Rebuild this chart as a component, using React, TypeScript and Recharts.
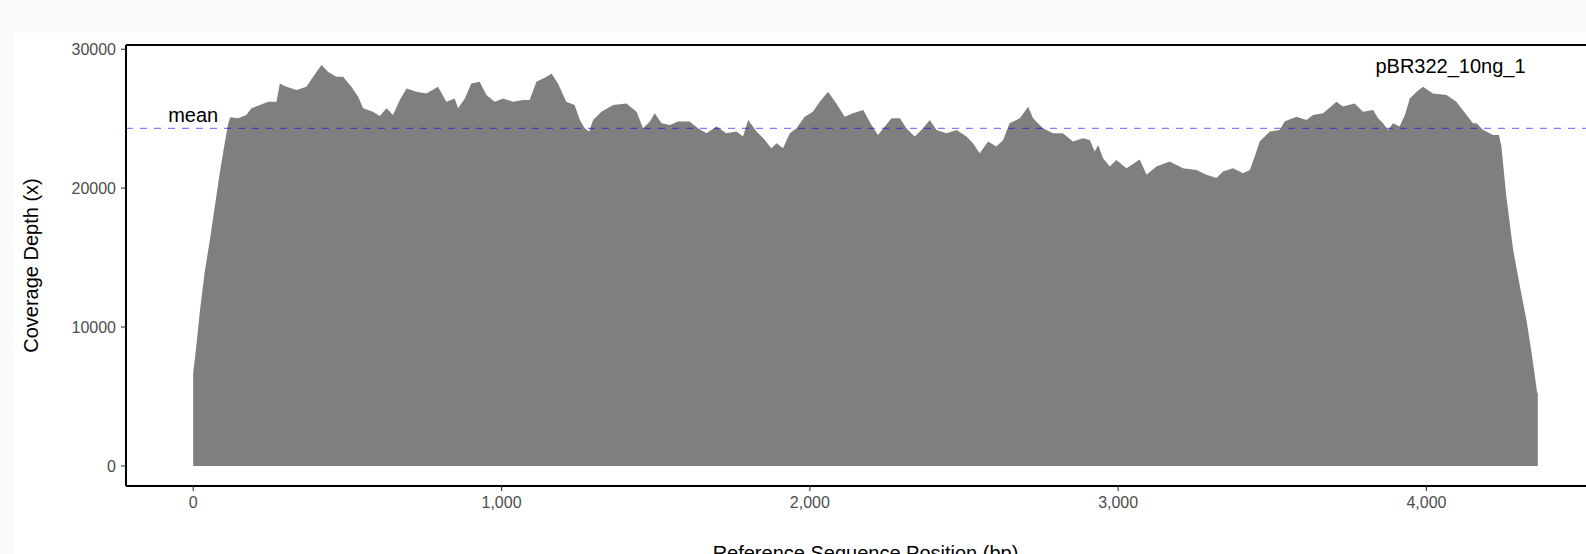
import React from 'react';
import {
  ComposedChart,
  Area,
  XAxis,
  YAxis,
  ReferenceLine,
  ReferenceDot,
} from 'recharts';

// Reference sequence positions (bp) and coverage depth
const positions = [
  0, 10, 21, 37, 54, 70, 86, 102, 113, 120, 145, 172, 189, 216, 243, 270, 281, 302, 335, 367,
  389, 416, 437, 464, 486, 513, 535, 551, 583, 605, 627, 648, 670, 692, 724, 756, 794, 821, 848, 859,
  881, 902, 929, 951, 978, 1005, 1037, 1070, 1091, 1113, 1146, 1162, 1183, 1210, 1237, 1254, 1270, 1284, 1297, 1324,
  1362, 1405, 1438, 1459, 1481, 1497, 1519, 1546, 1572, 1610, 1637, 1665, 1697, 1729, 1762, 1783, 1800, 1827, 1854, 1875,
  1892, 1913, 1935, 1957, 1983, 2010, 2032, 2059, 2086, 2113, 2140, 2173, 2200, 2221, 2243, 2265, 2292, 2313, 2340, 2362,
  2389, 2411, 2443, 2476, 2508, 2529, 2551, 2578, 2605, 2627, 2648, 2681, 2708, 2724, 2756, 2789, 2821, 2853, 2886, 2908,
  2924, 2935, 2951, 2973, 2994, 3027, 3070, 3092, 3124, 3167, 3210, 3254, 3286, 3319, 3340, 3373, 3405, 3427, 3443, 3459,
  3492, 3524, 3540, 3578, 3611, 3632, 3665, 3708, 3729, 3767, 3794, 3827, 3843, 3859, 3875, 3892, 3913, 3930, 3946, 3968,
  3989, 4021, 4065, 4097, 4130, 4151, 4162, 4184, 4216, 4235, 4243, 4259, 4281, 4303, 4324, 4341, 4359, 4361,
];

const depths = [
  6700, 8620, 11040, 13920, 16290, 18680, 21080, 23230, 24600, 25100, 25030, 25270, 25750, 25980, 26220, 26220, 27540, 27300, 27060, 27300,
  28020, 28860, 28380, 28020, 28020, 27300, 26580, 25750, 25500, 25190, 25750, 25270, 26340, 27180, 26940, 26820, 27300, 26220, 26460, 25750,
  26460, 27540, 27660, 26700, 26220, 26460, 26220, 26340, 26340, 27660, 28020, 28260, 27540, 26220, 25980, 24910, 24310, 24070, 24910, 25500,
  25980, 26100, 25500, 24310, 24790, 25390, 24670, 24550, 24790, 24790, 24310, 23950, 24430, 23950, 24070, 23710, 24910, 24070, 23470, 22870,
  23230, 22870, 23950, 24310, 25140, 25500, 26220, 26940, 26100, 25140, 25390, 25630, 24550, 23830, 24430, 25030, 25030, 24310, 23710, 24190,
  24910, 24190, 23950, 24190, 23710, 23230, 22510, 23350, 22990, 23470, 24670, 25030, 25860, 25030, 24310, 23950, 23950, 23350, 23590, 23470,
  22630, 23110, 22150, 21550, 22030, 21430, 22060, 20960, 21550, 21910, 21430, 21310, 20960, 20720, 21190, 21430, 21070, 21310, 22270, 23350,
  24070, 24190, 24790, 25140, 24910, 25270, 25390, 26220, 25870, 26100, 25500, 25630, 25030, 24670, 24190, 24670, 24430, 25270, 26460, 26940,
  27300, 26820, 26700, 26220, 25270, 24670, 24670, 24190, 23830, 23830, 22990, 19400, 15570, 12930, 10540, 8150, 5270, 5270,
];

const xTicks = [0, 1000, 2000, 3000, 4000];
const yTicks = [0, 10000, 20000, 30000];
const xDomain = [-218.05, 4579.05];
const yDomain = [-1443, 30303];
const meanDepth = 24300;
const meanText = 'mean';
const sampleName = 'pBR322_10ng_1';
const sampleLabelPos = 4078;
const sampleLabelDepth = 28860;
const xTitle = 'Reference Sequence Position (bp)';
const yTitle = 'Coverage Depth (x)';

const data = positions.map((p, i) => ({ pos: p, depth: depths[i] }));

const FONT = '"Liberation Sans", Arial, Helvetica, sans-serif';

const fmtX = (v: number) => v.toLocaleString('en-US');

const XTitle = (props: any) => {
  const vb = props.viewBox || { x: 112, y: 453, width: 1479, height: 87 };
  return (
    <text
      x={vb.x + vb.width / 2}
      y={vb.y + 73.5}
      textAnchor="middle"
      fontSize={20}
      fill="#000"
      fontFamily={FONT}
    >
      {xTitle}
    </text>
  );
};

const YTitle = (props: any) => {
  const vb = props.viewBox || { x: 0, y: 12, width: 112, height: 441 };
  const x = vb.x + 24.3;
  const y = vb.y + vb.height / 2;
  return (
    <text
      x={x}
      y={y}
      transform={`rotate(-90 ${x} ${y})`}
      textAnchor="middle"
      fontSize={20}
      fill="#000"
      fontFamily={FONT}
    >
      {yTitle}
    </text>
  );
};

const MeanLabel = (props: any) => {
  const vb = props.viewBox;
  if (!vb) return null;
  return (
    <text x={vb.x} y={vb.y - 6.6} textAnchor="middle" fontSize={20} fill="#000" fontFamily={FONT}>
      {meanText}
    </text>
  );
};

const SampleLabel = (props: any) => {
  const vb = props.viewBox;
  if (!vb) return null;
  return (
    <text x={vb.x} y={vb.y + 8} textAnchor="middle" fontSize={20} fill="#000" fontFamily={FONT}>
      {sampleName}
    </text>
  );
};

export default function App() {
  return (
    <div
      style={{
        position: 'fixed',
        left: 0,
        top: 0,
        width: 1586,
        height: 554,
        background: '#fafafa',
        overflow: 'hidden',
      }}
    >
      <div
        style={{
          position: 'absolute',
          left: 14,
          top: 33,
          width: 1572,
          height: 521,
          background: '#ffffff',
          overflow: 'hidden',
        }}
      >
        <ComposedChart
          width={1600}
          height={540}
          data={data}
          margin={{ top: 12, right: 9, bottom: 0, left: 0 }}
        >
          <XAxis
            type="number"
            dataKey="pos"
            domain={xDomain}
            allowDataOverflow
            ticks={xTicks}
            interval={0}
            tickFormatter={fmtX}
            height={87}
            tickSize={5}
            tickMargin={6}
            axisLine={{ stroke: '#000', strokeWidth: 2 }}
            tickLine={{ stroke: '#333', strokeWidth: 1.1 }}
            tick={{ fontSize: 16, fill: '#4d4d4d', fontFamily: FONT }}
            label={XTitle}
          />
          <YAxis
            type="number"
            domain={yDomain}
            allowDataOverflow
            ticks={yTicks}
            interval={0}
            width={112}
            tickSize={5}
            tickMargin={5}
            axisLine={{ stroke: '#000', strokeWidth: 2 }}
            tickLine={{ stroke: '#333', strokeWidth: 1.1 }}
            tick={{ fontSize: 16, fill: '#4d4d4d', fontFamily: FONT }}
            label={YTitle}
          />
          <Area
            type="linear"
            dataKey="depth"
            fill="#7f7f7f"
            fillOpacity={1}
            stroke="none"
            baseValue={0}
            dot={false}
            activeDot={false}
            isAnimationActive={false}
          />
          <ReferenceLine
            y={meanDepth}
            stroke="#0000ff"
            strokeOpacity={0.5}
            strokeWidth={1.1}
            strokeDasharray="7 7"
          />
          <ReferenceLine y={yDomain[1]} stroke="#000" strokeWidth={2} />
          <ReferenceDot
            x={0}
            y={meanDepth}
            r={0}
            fill="none"
            stroke="none"
            label={MeanLabel}
          />
          <ReferenceDot
            x={sampleLabelPos}
            y={sampleLabelDepth}
            r={0}
            fill="none"
            stroke="none"
            label={SampleLabel}
          />
        </ComposedChart>
      </div>
    </div>
  );
}
